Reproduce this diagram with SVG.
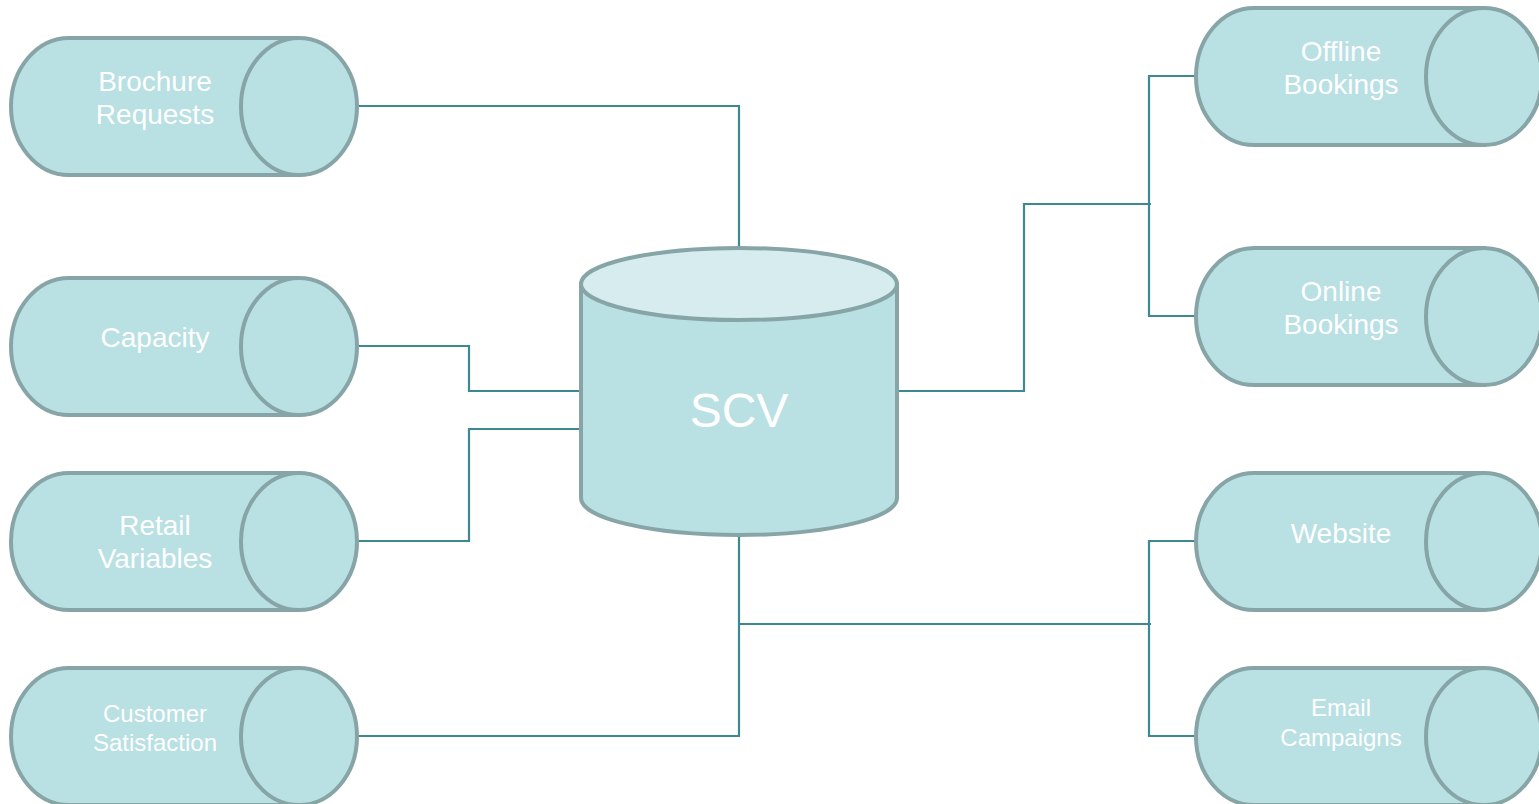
<svg xmlns="http://www.w3.org/2000/svg" xmlns:xlink="http://www.w3.org/1999/xlink" width="1539" height="804" viewBox="0 0 1539 804">
  <style>
    .shape { fill: #B9E0E3; stroke: #87A5A7; stroke-width: 4; }
    .top { fill: #D6ECEF; stroke: #87A5A7; stroke-width: 4; }
    .lbl { fill: #FFFFFF; font-family: "Liberation Sans", Arial, sans-serif; font-size: 28px; text-anchor: middle; }
    .sm { font-size: 24px; }
    .big { font-size: 48px; }
    .wire { fill: none; stroke: #3C8A8F; stroke-width: 2.2; }
  </style>
  <defs>
    <!-- horizontal drum: body plus its right-hand end face -->
    <g id="hcyl">
      <path class="shape" d="M58,0 H288 V137 H58 A58,68.5 0 0 1 58,0 Z"/>
      <ellipse class="shape" cx="288" cy="68.5" rx="58" ry="68.5"/>
    </g>
  </defs>

  <g id="connectors">
    <polyline class="wire" points="357,106 739,106 739,248"/>
    <polyline class="wire" points="357,346 469,346 469,391 581,391"/>
    <polyline class="wire" points="357,541 469,541 469,429 581,429"/>
    <polyline class="wire" points="357,736 739,736 739,535"/>
    <polyline class="wire" points="739,624 1151,624"/>
    <polyline class="wire" points="897,391 1024,391 1024,204 1151,204"/>
    <polyline class="wire" points="1197,76 1149,76 1149,316 1197,316"/>
    <polyline class="wire" points="1197,541 1149,541 1149,736 1197,736"/>
  </g>

  <g id="scv">
    <path class="shape" d="M581,284 V498 A158,37 0 0 0 897,498 V284 Z"/>
    <ellipse class="top" cx="739" cy="284" rx="158" ry="36"/>
    <text class="lbl big" x="739" y="427">SCV</text>
  </g>

  <g id="brochure-requests">
    <use xlink:href="#hcyl" transform="translate(11,38)"/>
    <text class="lbl" x="155" y="91">Brochure</text>
    <text class="lbl" x="155" y="124">Requests</text>
  </g>
  <g id="capacity">
    <use xlink:href="#hcyl" transform="translate(11,278)"/>
    <text class="lbl" x="155" y="347">Capacity</text>
  </g>
  <g id="retail-variables">
    <use xlink:href="#hcyl" transform="translate(11,473)"/>
    <text class="lbl" x="155" y="535">Retail</text>
    <text class="lbl" x="155" y="568">Variables</text>
  </g>
  <g id="customer-satisfaction">
    <use xlink:href="#hcyl" transform="translate(11,668)"/>
    <text class="lbl sm" x="155" y="722">Customer</text>
    <text class="lbl sm" x="155" y="751">Satisfaction</text>
  </g>

  <g id="offline-bookings">
    <use xlink:href="#hcyl" transform="translate(1196,8)"/>
    <text class="lbl" x="1341" y="61">Offline</text>
    <text class="lbl" x="1341" y="94">Bookings</text>
  </g>
  <g id="online-bookings">
    <use xlink:href="#hcyl" transform="translate(1196,248)"/>
    <text class="lbl" x="1341" y="301">Online</text>
    <text class="lbl" x="1341" y="334">Bookings</text>
  </g>
  <g id="website">
    <use xlink:href="#hcyl" transform="translate(1196,473)"/>
    <text class="lbl" x="1341" y="543">Website</text>
  </g>
  <g id="email-campaigns">
    <use xlink:href="#hcyl" transform="translate(1196,668)"/>
    <text class="lbl sm" x="1341" y="716">Email</text>
    <text class="lbl sm" x="1341" y="746">Campaigns</text>
  </g>
</svg>
